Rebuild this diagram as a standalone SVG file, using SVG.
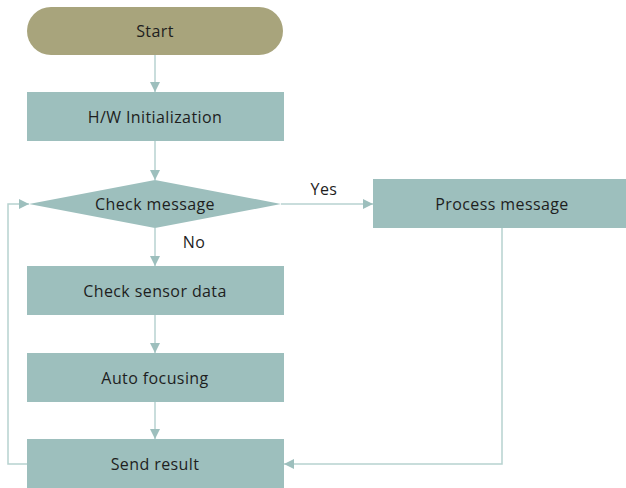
<svg xmlns="http://www.w3.org/2000/svg" width="626" height="488" viewBox="0 0 626 488">
  <style>
    .box { fill: #9dbfbd; }
    .term { fill: #a8a47c; }
    .lbl { font-family: "Open Sans", "Noto Sans", "Liberation Sans", sans-serif; font-size: 16px; letter-spacing: 0.4px; fill: #1e1e1e; text-anchor: middle; dominant-baseline: central; }
    .edge { fill: none; stroke: #b7d2d0; stroke-width: 1.5; marker-end: url(#arr); }
  </style>
  <defs>
    <marker id="arr" viewBox="0 0 10 10" refX="10" refY="5" markerWidth="10" markerHeight="10" markerUnits="userSpaceOnUse" orient="auto">
      <path d="M0,0 L10,5 L0,10 Z" fill="#9dbfbd"/>
    </marker>
  </defs>
  <rect width="626" height="488" fill="#ffffff"/>

  <g id="connectors">
    <path class="edge" d="M155,55 V92"/>
    <path class="edge" d="M155,141 V180"/>
    <path class="edge" d="M281,204 H373"/>
    <path class="edge" d="M155,228 V266"/>
    <path class="edge" d="M155,315 V353"/>
    <path class="edge" d="M155,402 V439"/>
    <path class="edge" d="M502,228 V464 H284"/>
    <path class="edge" d="M27,464 H8 V204 H29"/>
    <text class="lbl" x="324" y="189">Yes</text>
    <text class="lbl" x="194" y="242">No</text>
  </g>

  <g id="start">
    <rect class="term" x="27" y="7" width="256" height="48" rx="24"/>
    <text class="lbl" x="155" y="31">Start</text>
  </g>
  <g id="hw-init">
    <rect class="box" x="27" y="92" width="257" height="49"/>
    <text class="lbl" x="155" y="117">H/W Initialization</text>
  </g>
  <g id="check-message">
    <polygon class="box" points="29,204 155,180 281,204 155,228"/>
    <text class="lbl" x="155" y="204">Check message</text>
  </g>
  <g id="process-message">
    <rect class="box" x="373" y="179" width="253" height="49"/>
    <text class="lbl" x="502" y="204">Process message</text>
  </g>
  <g id="check-sensor">
    <rect class="box" x="27" y="266" width="257" height="49"/>
    <text class="lbl" x="155" y="291">Check sensor data</text>
  </g>
  <g id="auto-focus">
    <rect class="box" x="27" y="353" width="257" height="49"/>
    <text class="lbl" x="155" y="378">Auto focusing</text>
  </g>
  <g id="send-result">
    <rect class="box" x="27" y="439" width="257" height="49"/>
    <text class="lbl" x="155" y="464">Send result</text>
  </g>
</svg>
